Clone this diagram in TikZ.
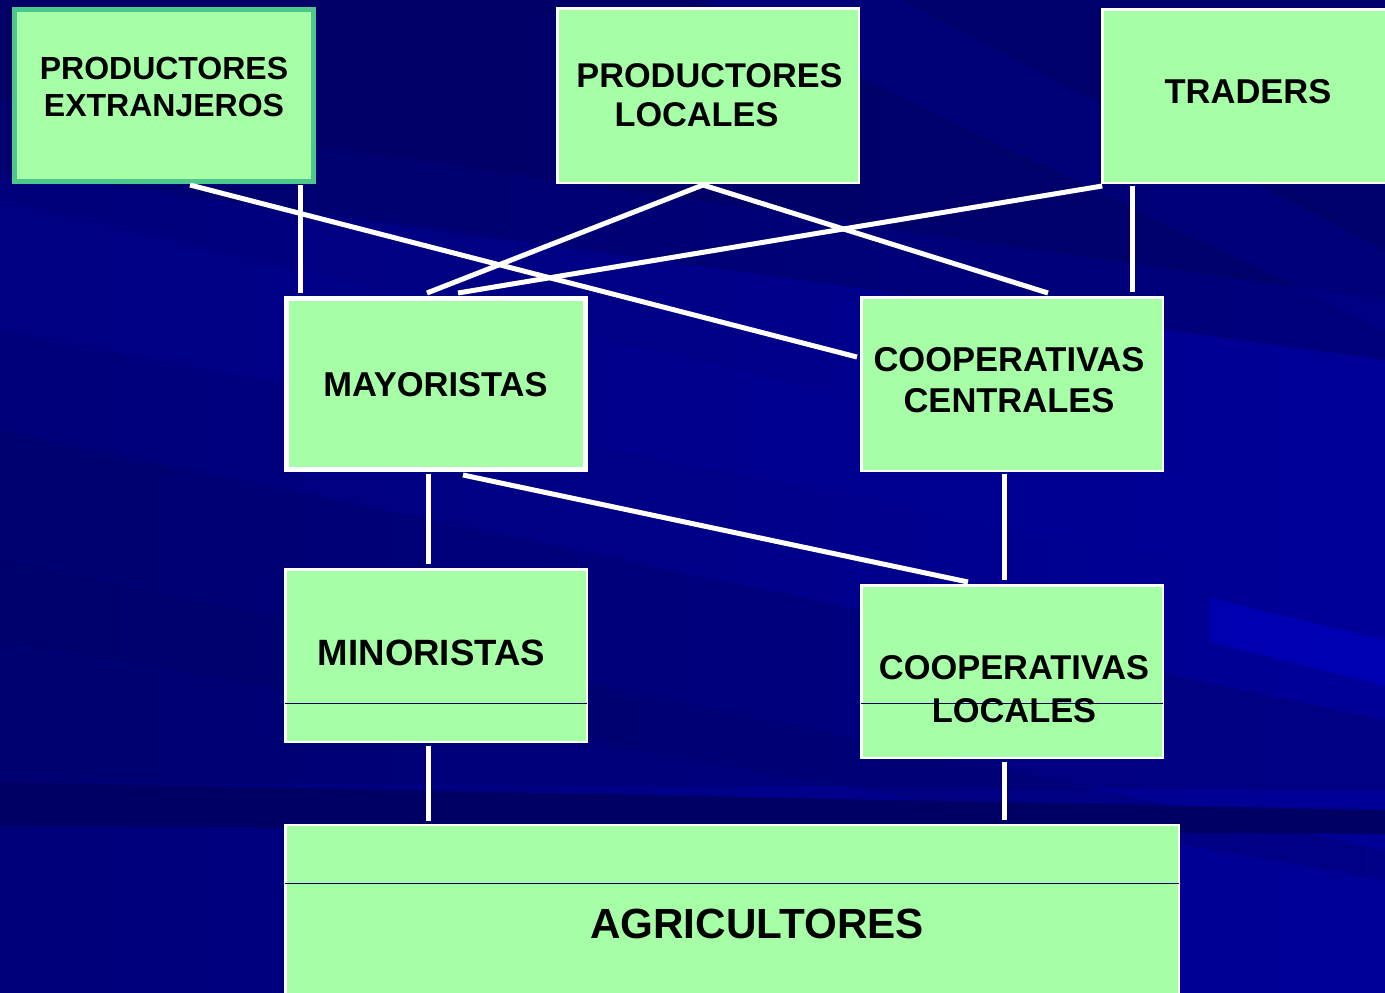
\documentclass[tikz,border=0pt]{standalone}
\usepackage{fontspec}
\setmainfont{Liberation Sans}
\usetikzlibrary{calc}
\definecolor{boxgreen}{HTML}{A6FFA6}
\definecolor{tealedge}{HTML}{4CC88C}
\definecolor{bgbase}{HTML}{00007E}
\definecolor{bgdark}{HTML}{000064}
\definecolor{bglight}{HTML}{000098}
\definecolor{rulenavy}{HTML}{000060}
\begin{document}
\begin{tikzpicture}[x=1pt,y=-1pt,
  box/.style={rectangle, draw=white, fill=boxgreen, line width=2.5pt, inner sep=0pt, outer sep=0pt},
  thickbox/.style={box, line width=5pt},
  lbl/.style={align=center, inner sep=0pt, outer sep=0pt, text=black, font=\bfseries\fontsize{34.5}{40}\selectfont},
  conn/.style={draw=white, line width=5pt},
  inrule/.style={draw=rulenavy, line width=1pt}]
\useasboundingbox (0,0) rectangle (1385,993);
% ---------- background ----------
\shade[left color=bgbase!80!bgdark, right color=bglight] (0,0) rectangle (1385,993);
\fill[bgdark, opacity=0.85] (0,0) -- (1385,0) -- (1385,300) -- (0,100) -- cycle;
\fill[bgdark, opacity=0.5] (0,100) -- (1385,300) -- (1385,360) -- (0,170) -- cycle;
\fill[bglight, opacity=0.3] (0,200) -- (1385,520) -- (1385,600) -- (0,330) -- cycle;
\fill[bgdark, opacity=0.35] (0,430) -- (1385,720) -- (1385,790) -- (0,782) -- cycle;
\fill[bgdark, opacity=0.3] (0,560) -- (1385,850) -- (1385,880) -- (0,640) -- cycle;
\fill[bgdark] (0,782) -- (1385,810) -- (1385,834) -- (0,826) -- cycle;
\fill[bglight, opacity=0.3] (700,0) -- (900,0) -- (1385,250) -- (1385,330) -- cycle;
\fill[blue!60!bglight, opacity=0.45] (1210,598) -- (1385,640) -- (1385,686) -- (1210,642) -- cycle;
% ---------- boxes ----------
\node[thickbox, draw=tealedge, minimum width=299pt, minimum height=172pt] (pe) at (164,95.5) {};
\node[box, minimum width=301.5pt, minimum height=174.5pt] (pl) at (708,95.5) {};
\node[box, minimum width=300pt, minimum height=173.5pt] (tr) at (1252.25,96) {};
\node[thickbox, minimum width=299pt, minimum height=171pt] (may) at (436,384) {};
\node[box, minimum width=301.5pt, minimum height=173.5pt] (cc) at (1012,384) {};
\node[box, minimum width=301.5pt, minimum height=172.5pt] (min) at (436,655.5) {};
\node[box, minimum width=301.5pt, minimum height=172.5pt] (cl) at (1012,671.5) {};
\node[box, minimum width=893.5pt, minimum height=184.75pt] (agr) at (732,917.6) {};
% ---------- inner rules ----------
\coordinate (ruleA) at (0,703);
\coordinate (ruleB) at (0,883);
\draw[inrule] (min.west |- ruleA) -- (min.east |- ruleA);
\draw[inrule] (cl.west |- ruleA) -- (cl.east |- ruleA);
\draw[inrule] (agr.west |- ruleB) -- (agr.east |- ruleB);
% ---------- labels ----------
\node[lbl, font=\bfseries\fontsize{32}{37}\selectfont] (pet) at (164,87) {PRODUCTORES\\EXTRANJEROS};
\node[lbl, font=\bfseries\fontsize{34.3}{39}\selectfont] (plt) at (709.5,95.5) {PRODUCTORES\\LOCALES\hspace*{26pt}};
\node[lbl] (trt) at (1248,91.5) {TRADERS};
\node[lbl] (mayt) at (435.5,384.5) {MAYORISTAS};
\node[lbl, font=\bfseries\fontsize{34.5}{41}\selectfont] (cct) at (1009,380) {COOPERATIVAS\\CENTRALES};
\node[lbl, font=\bfseries\fontsize{36.6}{42}\selectfont] (mint) at (431.5,653) {MINORISTAS};
\node[lbl, font=\bfseries\fontsize{34.4}{43}\selectfont] (clt) at (1014,689) {COOPERATIVAS\\LOCALES};
\node[lbl, font=\bfseries\fontsize{42.2}{48}\selectfont] (agrt) at (757,923.5) {AGRICULTORES};
% ---------- connectors ----------
\draw[conn] ($(pe.south west)+(175.5,3.5)$) -- ($(cc.west)+(-4.25,-27)$);
\draw[conn] ($(pe.south west)+(285.5,3.5)$) -- ($(may.north west)+(13.5,-5.5)$);
\draw[conn] ($(pl.south)+(-5,2.25)$) -- ($(may.north)+(-9,-5.5)$);
\draw[conn] ($(pl.south)+(-5,2.25)$) -- ($(cc.north)+(36,-4.25)$);
\draw[conn] ($(tr.south west)+(0,3.25)$) -- ($(may.north)+(22,-5.5)$);
\draw[conn] ($(tr.south west)+(29.75,3.25)$) -- ($(cc.north east)+(-30.75,-5.25)$);
\draw[conn] ($(may.south)+(-8,4.5)$) -- ($(min.north)+(-8,-5.25)$);
\draw[conn] ($(may.south)+(27,5.5)$) -- ($(cl.north)+(-44,-3.25)$);
\draw[conn] ($(cc.south)+(-8,3.25)$) -- ($(cl.north)+(-8,-5.25)$);
\draw[conn] ($(min.south)+(-8,4.25)$) -- ($(agr.north west)+(142.75,-4.25)$);
\draw[conn] ($(cl.south)+(-8,4.25)$) -- ($(agr.north west)+(718.75,-5.25)$);
\end{tikzpicture}
\end{document}
